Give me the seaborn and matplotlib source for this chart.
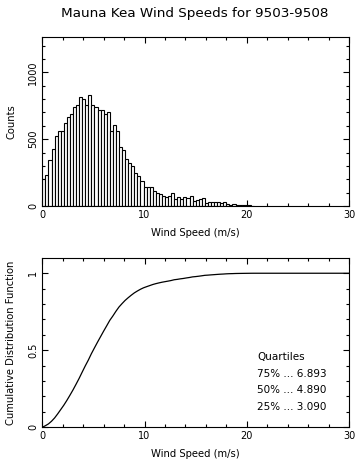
import numpy as np
import pandas as pd
import matplotlib
matplotlib.use("Agg")
import matplotlib.pyplot as plt
from matplotlib.ticker import MultipleLocator
import seaborn as sns

# ---- data ----
bin_width = 0.3  # m/s
counts = [205, 235, 344, 425, 525, 564, 564, 625, 668, 691,
          740, 758, 816, 804, 755, 832, 755, 742, 719, 719,
          691, 704, 564, 610, 558, 441, 416, 350, 325, 301,
          245, 225, 190, 145, 140, 140, 112, 97, 89, 74,
          71, 77, 100, 51, 66, 51, 69, 59, 77, 38,
          48, 56, 59, 26, 33, 30, 30, 28, 20, 28,
          18, 10, 15, 8, 6, 6, 5, 5, 3]
quartile_names = ["75%", "50%", "25%"]
quartile_values = [6.893, 4.890, 3.090]
title_text = "Mauna Kea Wind Speeds for 9503-9508"
xlabel_text = "Wind Speed (m/s)"
ylabel_top = "Counts"
ylabel_bottom = "Cumulative Distribution Function"

counts = np.array(counts, dtype=float)
edges = np.arange(len(counts) + 1) * bin_width
centers = edges[:-1] + bin_width / 2
hist_df = pd.DataFrame({"speed": centers, "count": counts})

cdf_x = np.concatenate([[0.0], edges[1:], [30.0]])
cum = np.cumsum(counts) / counts.sum()
cdf_y = np.concatenate([[0.0], cum, [1.0]])
cdf_df = pd.DataFrame({"speed": cdf_x, "cdf": cdf_y})

sns.set_theme(style="white")
plt.rcParams["font.family"] = ["DejaVu Sans"]
plt.rcParams["axes.linewidth"] = 0.8

W, H = 362, 471
fig = plt.figure(figsize=(W / 100, H / 100), dpi=100)
fig.patch.set_facecolor("white")

def px_axes(left, top, right, bottom):
    return fig.add_axes([left / W, 1 - bottom / H, (right - left) / W, (bottom - top) / H])

ax1 = px_axes(42.3, 37, 349, 206)
ax2 = px_axes(42.3, 258.3, 349, 427.3)

sns.histplot(data=hist_df, x="speed", weights="count", binwidth=bin_width,
             binrange=(0, float(edges[-1])), ax=ax1,
             color="white", edgecolor="black", linewidth=0.8, alpha=1.0)
sns.lineplot(data=cdf_df, x="speed", y="cdf", ax=ax2, color="black", linewidth=0.9)

fs_tick = 7
fs_lab = 7.2

for ax in (ax1, ax2):
    ax.set_facecolor("white")
    for s in ax.spines.values():
        s.set_color("black")
        s.set_linewidth(0.8)
    ax.set_xlim(0, 30)
    ax.xaxis.set_major_locator(MultipleLocator(10))
    ax.xaxis.set_minor_locator(MultipleLocator(2))
    ax.tick_params(which="both", direction="in", top=True, right=True,
                   bottom=True, left=True, color="black", width=0.8,
                   labelsize=fs_tick, labelcolor="black")
    ax.tick_params(which="major", length=4, pad=3)
    ax.tick_params(which="minor", length=2.2)
    ax.tick_params(axis="y", labelrotation=90)
    ax.set_xlabel(xlabel_text, fontsize=fs_lab, color="black")
    ax.xaxis.set_label_coords(0.5, -0.13)
    ax.yaxis.set_label_coords(-0.085, 0.5)
    ax.grid(False)

ax1.set_ylim(0, 1265)
ax1.yaxis.set_major_locator(MultipleLocator(500))
ax1.yaxis.set_minor_locator(MultipleLocator(100))
ax1.set_ylabel(ylabel_top, fontsize=fs_lab, color="black")

ax2.set_ylim(0, 1.097)
ax2.yaxis.set_major_locator(MultipleLocator(0.5))
ax2.yaxis.set_minor_locator(MultipleLocator(0.1))
ax2.set_yticks([0, 0.5, 1])
ax2.set_yticklabels(["0", "0.5", "1"])
ax2.set_ylabel(ylabel_bottom, fontsize=fs_lab, color="black")

for ax in (ax1, ax2):
    for lab in ax.get_yticklabels():
        lab.set_verticalalignment("center")

fs_q = 7.5
ax2.text(21.0, 0.458, "Quartiles", fontsize=fs_q, va="center", ha="left", color="black")
for i, (nm, v) in enumerate(zip(quartile_names, quartile_values)):
    ax2.text(21.0, 0.347 - i * 0.108, f"{nm} ... {v:.3f}", fontsize=fs_q,
             va="center", ha="left", color="black")

fig.text(0.5 + 14 / W, 1 - 14 / H, title_text, fontsize=9.7, ha="center", va="center", color="black")

fig.savefig("out.png", dpi=100, facecolor="white")
